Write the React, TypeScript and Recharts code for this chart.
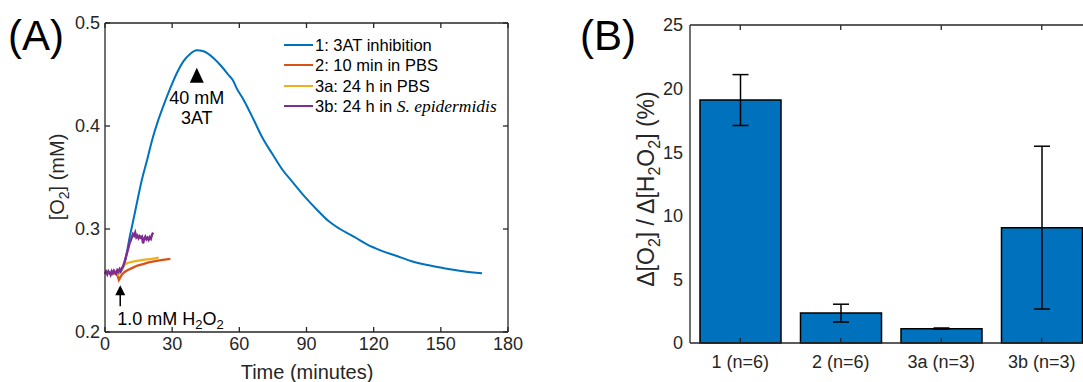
import {
  LineChart,
  Line,
  ComposedChart,
  Bar,
  ErrorBar,
  XAxis,
  YAxis,
  ReferenceDot,
  ReferenceLine,
} from "recharts";

// panel A: O2 traces (time in minutes, [O2] in mM)
const blueT = [0, 3, 5, 7, 8.5, 10, 11, 12.5, 14.4, 16.5, 18.8, 21, 23.3, 26, 29.2, 32, 35.1, 38, 41, 44, 48.4, 52, 55, 57.5, 58.5, 62, 66.2, 70.2, 75, 79.1, 84, 89.4, 95, 99.7, 105, 111.5, 117, 123.3, 130, 136.6, 144, 151.4, 160, 168.4];
const blueO2 = [0.258, 0.258, 0.2585, 0.259, 0.265, 0.28, 0.292, 0.307, 0.327, 0.348, 0.367, 0.386, 0.4025, 0.419, 0.437, 0.451, 0.463, 0.47, 0.4735, 0.4725, 0.466, 0.458, 0.45, 0.443, 0.438, 0.425, 0.407, 0.389, 0.372, 0.358, 0.345, 0.331, 0.318, 0.308, 0.3, 0.292, 0.285, 0.279, 0.274, 0.269, 0.265, 0.262, 0.259, 0.257];

const orangeT = [0, 2, 4, 5.5, 6.2, 6.8, 7.5, 8.6, 10, 12, 14.5, 17, 19.5, 21.8, 25, 29.2];
const orangeO2 = [0.258, 0.258, 0.257, 0.256, 0.2505, 0.253, 0.2555, 0.258, 0.26, 0.262, 0.2645, 0.266, 0.2675, 0.2685, 0.2697, 0.271];

const yellowT = [0, 3, 5, 6, 7, 8.5, 10, 13, 17, 21, 24];
const yellowO2 = [0.2575, 0.258, 0.258, 0.2555, 0.259, 0.265, 0.267, 0.2685, 0.27, 0.271, 0.2722];

const purpleT = [0, 0.5, 1, 1.5, 2, 2.5, 3, 3.5, 4, 4.5, 5, 5.5, 6, 6.5, 7, 7.5, 8, 8.5, 9, 9.5, 10, 10.5, 11, 11.5, 12, 12.5, 13, 13.5, 14, 14.5, 15, 15.5, 16, 16.5, 17, 17.5, 18, 18.5, 19, 19.5, 20, 20.5, 21, 21.5];
const purpleO2 = [0.2565, 0.2585, 0.256, 0.259, 0.2575, 0.2555, 0.259, 0.257, 0.2595, 0.258, 0.2565, 0.26, 0.2585, 0.261, 0.259, 0.262, 0.2635, 0.2665, 0.27, 0.274, 0.278, 0.282, 0.2865, 0.289, 0.292, 0.295, 0.2935, 0.2965, 0.292, 0.2935, 0.291, 0.293, 0.2915, 0.2925, 0.286, 0.2905, 0.2925, 0.29, 0.2915, 0.2895, 0.292, 0.2905, 0.2945, 0.2965];

const timeTicks = [0, 30, 60, 90, 120, 150, 180];
const o2Ticks = [0.2, 0.3, 0.4, 0.5];

// panel B: yield per group
const groups = ["1 (n=6)", "2 (n=6)", "3a (n=3)", "3b (n=3)"];
const ratioMean = [19.1, 2.35, 1.13, 9.07];
const ratioErr = [2.0, 0.7, 0.05, 6.4];
const pctTicks = [0, 5, 10, 15, 20, 25];

const zip = (t: number[], v: number[]) => t.map((x, i) => ({ t: x, v: v[i] }));

const series = [
  { name: "1: 3AT inhibition", color: "#0072BD", width: 2, smooth: true, data: zip(blueT, blueO2) },
  { name: "2: 10 min in PBS", color: "#D95319", width: 2.3, smooth: false, data: zip(orangeT, orangeO2) },
  { name: "3a: 24 h in PBS", color: "#EDB120", width: 2.3, smooth: false, data: zip(yellowT, yellowO2) },
  { name: "3b: 24 h in S. epidermidis", color: "#7E2F8E", width: 2.4, smooth: false, data: zip(purpleT, purpleO2) },
];

// axis frame of panel A, as points on the plot's own scales
const o2Min = o2Ticks[0];
const o2Max = o2Ticks[o2Ticks.length - 1];
const tMin = timeTicks[0];
const tMax = timeTicks[timeTicks.length - 1];
const frameBottom = timeTicks.map((t) => ({ t, v: o2Min }));
const frameTop = timeTicks.map((t) => ({ t, v: o2Max }));
const frameLeft = o2Ticks.map((v) => ({ t: tMin, v }));
const frameRight = o2Ticks.map((v) => ({ t: tMax, v }));

const barData = groups.map((g, i) => ({ name: g, value: ratioMean[i], err: ratioErr[i], lo: 0, hi: 25 }));

const INK = "#262626";
const axisLine = { stroke: INK, strokeWidth: 1.3 };
const tickStyle = { fontSize: 18, fill: INK };
const TICK = 5;

// inward tick marks (matlab style) drawn as the dots of a frame series
const tickMark = (dx: number, dy: number) => (p: any) => (
  <line
    key={`${p.index}-${dx}-${dy}`}
    x1={p.cx}
    y1={p.cy}
    x2={p.cx + dx * TICK}
    y2={p.cy + dy * TICK}
    stroke={INK}
    strokeWidth={1.3}
  />
);
const tickUp = tickMark(0, -1);
const tickDown = tickMark(0, 1);
const tickRight = tickMark(1, 0);
const tickLeft = tickMark(-1, 0);

function LegendBox() {
  return (
    <div style={{ position: "absolute", left: 284, top: 35, fontSize: 16.5, color: "#000", lineHeight: "20.3px" }}>
      {series.map((s) => {
        const italic = s.name.endsWith("S. epidermidis");
        return (
          <div key={s.name} style={{ display: "flex", alignItems: "center", whiteSpace: "nowrap" }}>
            <svg width={30} height={6} style={{ marginRight: 1 }}>
              <line x1={0} y1={3} x2={29} y2={3} stroke={s.color} strokeWidth={2} />
            </svg>
            {italic ? (
              <span>
                3b: 24 h in{" "}
                <i style={{ fontFamily: '"Liberation Serif", "Times New Roman", serif', fontSize: 17.5 }}>S. epidermidis</i>
              </span>
            ) : (
              <span>{s.name}</span>
            )}
          </div>
        );
      })}
    </div>
  );
}

const InhibitorNote = (p: any) => {
  const { cx, cy } = p;
  return (
    <g>
      <path d={`M${cx},${cy} L${cx - 7},${cy + 15} L${cx + 7},${cy + 15} Z`} fill="#000" />
      <text x={cx} y={cy + 36} textAnchor="middle" fontSize={18} fill="#000">40 mM</text>
      <text x={cx} y={cy + 56} textAnchor="middle" fontSize={18} fill="#000">3AT</text>
    </g>
  );
};

const PeroxideNote = (p: any) => {
  const { cx, cy } = p;
  return (
    <g>
      <path d={`M${cx},${cy} L${cx - 5},${cy + 10} L${cx + 5},${cy + 10} Z`} fill="#000" />
      <line x1={cx} y1={cy + 9} x2={cx} y2={cy + 21} stroke="#000" strokeWidth={1.5} />
      <text x={cx - 3} y={cy + 40} fontSize={18} fill="#000">
        1.0 mM H<tspan dy={4} fontSize={13}>2</tspan>
        <tspan dy={-4}>O</tspan>
        <tspan dy={4} fontSize={13}>2</tspan>
      </text>
    </g>
  );
};

export default function App() {
  return (
    <div
      style={{
        position: "absolute",
        left: 0,
        top: 0,
        width: 1083,
        height: 382,
        overflow: "hidden",
        background: "#fff",
        fontFamily: '"Liberation Sans", Arial, Helvetica, sans-serif',
      }}
    >
      <div style={{ position: "absolute", left: 0, top: 0 }}>
        <LineChart width={540} height={382} margin={{ top: 23, right: 32, bottom: 0, left: 0 }}>
          <XAxis
            dataKey="t"
            type="number"
            domain={[tMin, tMax]}
            ticks={timeTicks}
            height={50}
            tick={tickStyle}
            tickSize={0}
            tickMargin={5}
            axisLine={axisLine}
            tickLine={false}
          />
          <YAxis
            type="number"
            domain={[o2Min, o2Max]}
            ticks={o2Ticks}
            width={105}
            tick={tickStyle}
            tickSize={0}
            tickMargin={5}
            axisLine={axisLine}
            tickLine={false}
          />
          {series.map((s) => (
            <Line
              key={s.name}
              data={s.data}
              dataKey="v"
              name={s.name}
              type={s.smooth ? "monotone" : "linear"}
              stroke={s.color}
              strokeWidth={s.width}
              dot={false}
              activeDot={false}
              isAnimationActive={false}
            />
          ))}
          <Line data={frameBottom} dataKey="v" stroke="none" dot={tickUp} activeDot={false} legendType="none" isAnimationActive={false} />
          <Line data={frameTop} dataKey="v" stroke={INK} strokeWidth={1.3} dot={tickDown} activeDot={false} legendType="none" isAnimationActive={false} />
          <Line data={frameLeft} dataKey="v" stroke="none" dot={tickRight} activeDot={false} legendType="none" isAnimationActive={false} />
          <Line data={frameRight} dataKey="v" stroke={INK} strokeWidth={1.3} dot={tickLeft} activeDot={false} legendType="none" isAnimationActive={false} />
          <ReferenceDot x={41} y={0.4565} r={0} shape={InhibitorNote} ifOverflow="visible" />
          <ReferenceDot x={6.8} y={0.2455} r={0} shape={PeroxideNote} ifOverflow="visible" />
        </LineChart>
      </div>

      <div style={{ position: "absolute", left: 580, top: 0 }}>
        <ComposedChart width={520} height={382} data={barData} margin={{ top: 25, right: 8, bottom: 0, left: 0 }}>
          <XAxis
            dataKey="name"
            height={39}
            tick={tickStyle}
            tickSize={0}
            tickMargin={12}
            axisLine={axisLine}
            tickLine={false}
          />
          <YAxis
            type="number"
            domain={[0, 25]}
            ticks={pctTicks}
            width={110}
            tick={tickStyle}
            tickSize={0}
            tickMargin={7}
            axisLine={axisLine}
            tickLine={false}
          />
          <ReferenceLine y={25} stroke={INK} strokeWidth={1.3} ifOverflow="visible" />
          <Bar dataKey="value" fill="#0072BD" stroke="#000" strokeWidth={1.5} barSize={81} isAnimationActive={false}>
            <ErrorBar dataKey="err" width={8} stroke="#000" strokeWidth={1.5} direction="y" isAnimationActive={false} />
          </Bar>
          <Line dataKey="lo" stroke="none" dot={tickUp} activeDot={false} legendType="none" isAnimationActive={false} />
          <Line dataKey="hi" stroke="none" dot={tickDown} activeDot={false} legendType="none" isAnimationActive={false} />
        </ComposedChart>
      </div>

      <LegendBox />

      <svg width={1083} height={382} style={{ position: "absolute", left: 0, top: 0, pointerEvents: "none" }}>
        <text x={8} y={50} fontSize={42} fill="#000">(A)</text>
        <text x={580} y={50} fontSize={42} fill="#000">(B)</text>
        <text x={307} y={379} textAnchor="middle" fontSize={20} fill={INK}>Time (minutes)</text>
        <text x={64} y={177} textAnchor="middle" fontSize={20} fill={INK} transform="rotate(-90 64 177)">
          [O<tspan dy={5} fontSize={14}>2</tspan>
          <tspan dy={-5}>] (mM)</tspan>
        </text>
        <text x={654} y={189} textAnchor="middle" fontSize={23} fill={INK} transform="rotate(-90 654 189)">
          Δ[O<tspan dy={6} fontSize={16}>2</tspan>
          <tspan dy={-6}>] / Δ[H</tspan>
          <tspan dy={6} fontSize={16}>2</tspan>
          <tspan dy={-6}>O</tspan>
          <tspan dy={6} fontSize={16}>2</tspan>
          <tspan dy={-6}>] (%)</tspan>
        </text>
      </svg>
    </div>
  );
}
